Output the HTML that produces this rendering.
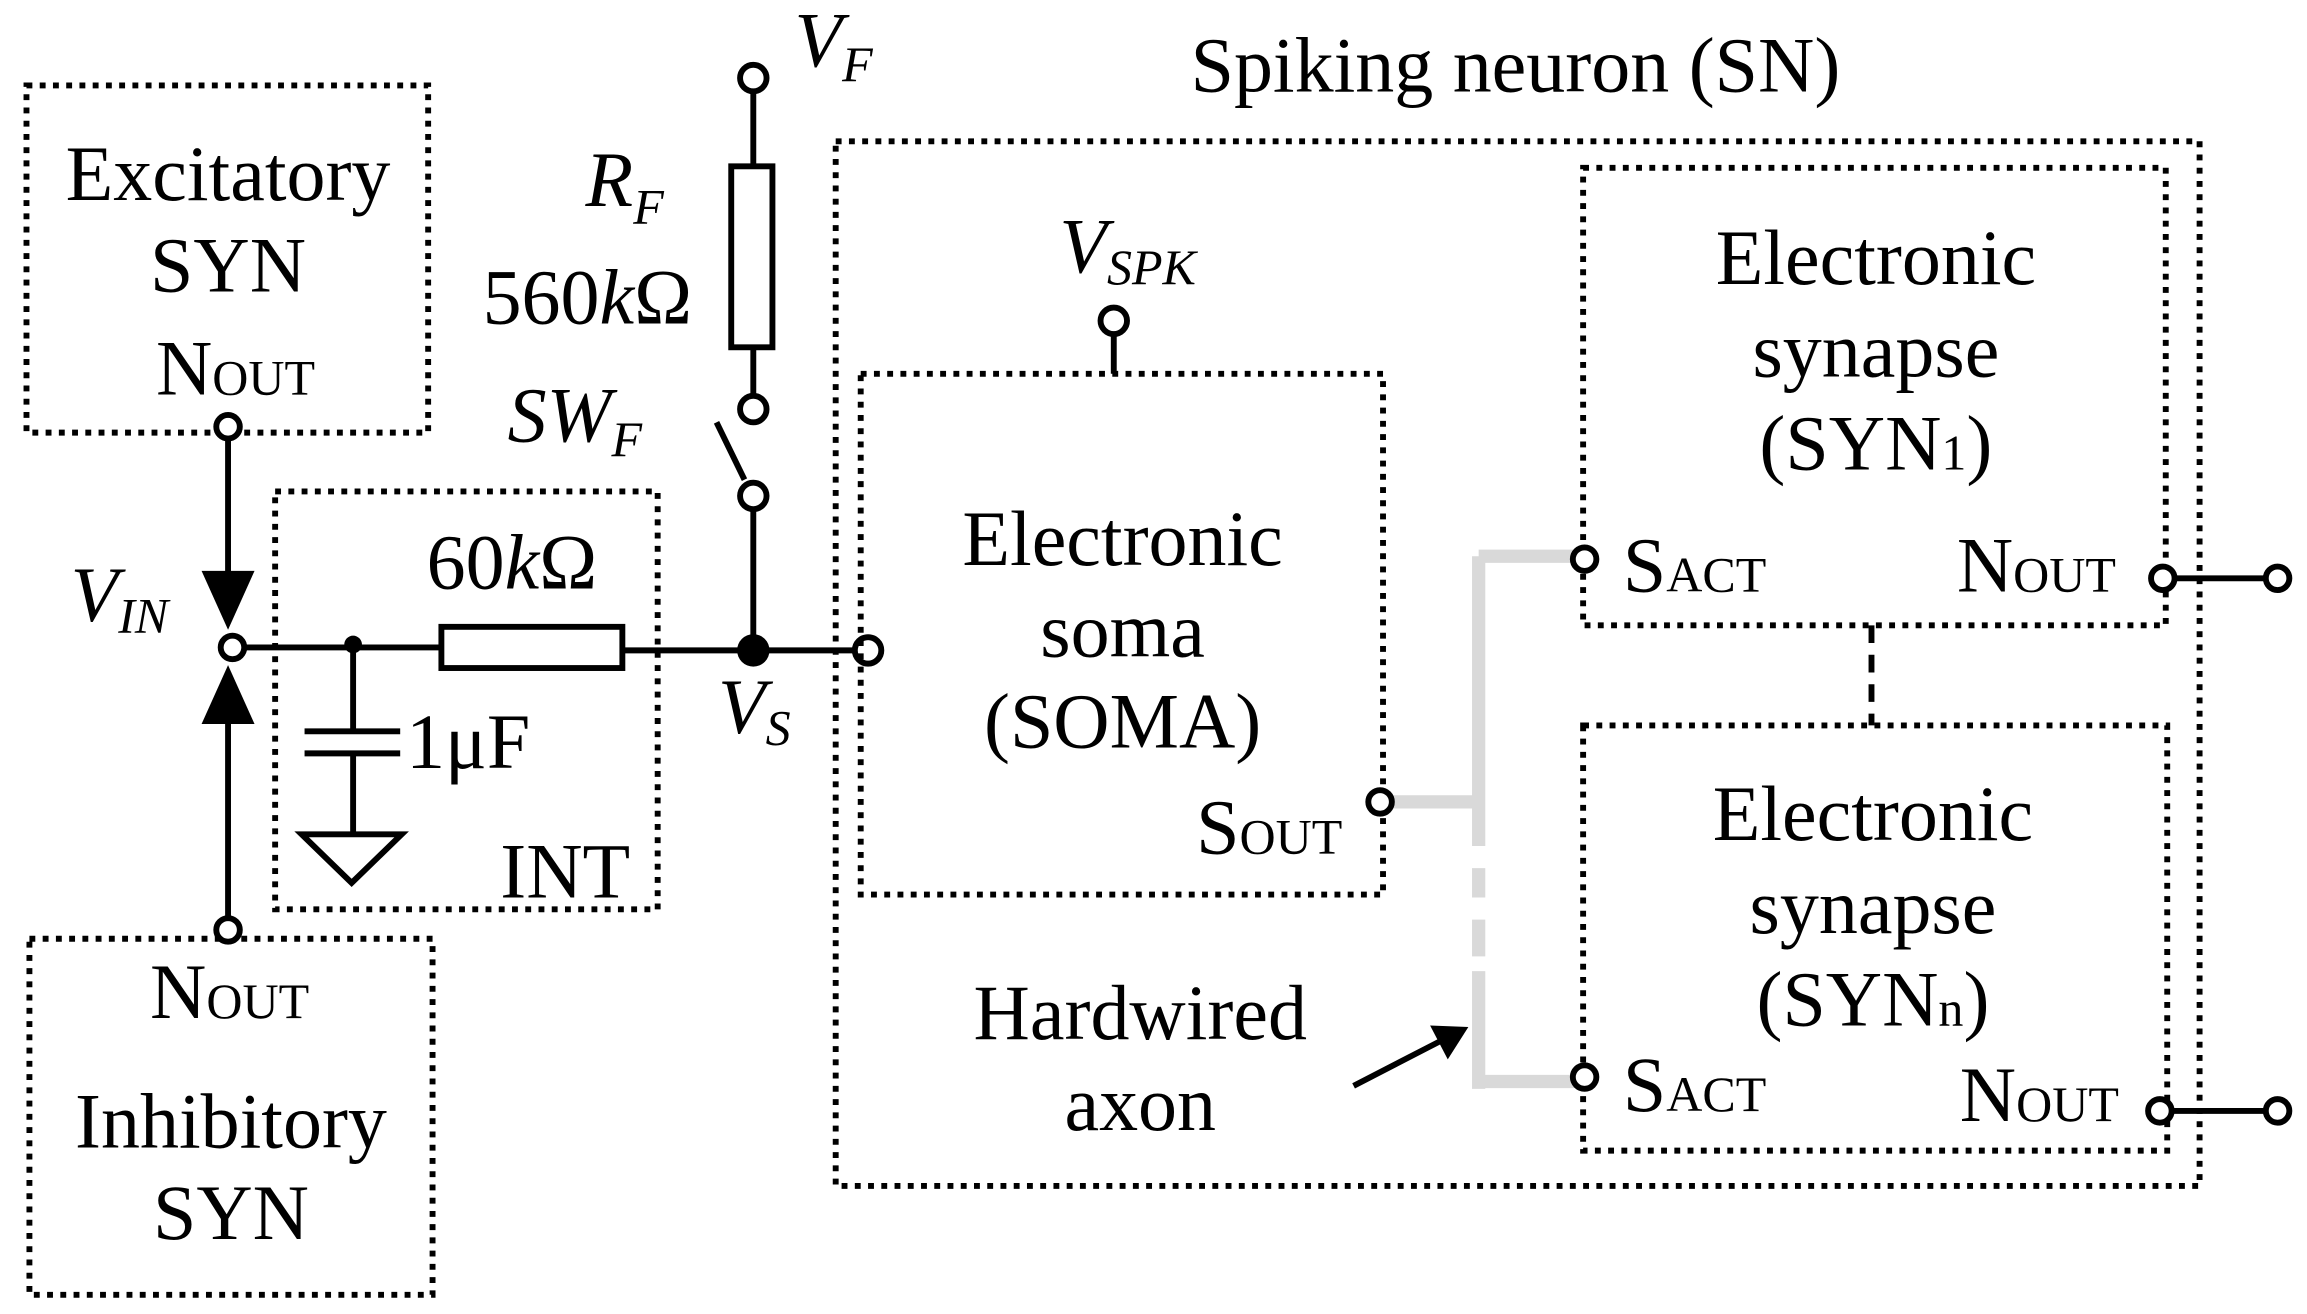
<!DOCTYPE html>
<html><head><style>
html,body{margin:0;padding:0;background:#fff;}
svg{display:block}
text{font-family:"Liberation Serif",serif;font-size:53px;fill:#000}
.i{font-style:italic}
.s{font-size:34px}
.d{fill:none;stroke:#000;stroke-width:4;stroke-dasharray:4 5}
.w{stroke:#000;stroke-width:4;fill:none}
.c{fill:#fff;stroke:#000;stroke-width:4}
</style></head><body>
<svg width="2307" height="1314" viewBox="0 0 1568 893" xmlns="http://www.w3.org/2000/svg">
<rect class="d" x="18" y="58" width="273" height="236"/>
<text x="155" y="136" text-anchor="middle">Excitatory</text>
<text x="155" y="198" text-anchor="middle">SYN</text>
<text x="106" y="268">N<tspan class="s">OUT</tspan></text>
<rect class="d" x="20" y="638" width="274" height="242"/>
<text x="102" y="692">N<tspan class="s">OUT</tspan></text>
<text x="157" y="780" text-anchor="middle">Inhibitory</text>
<text x="157" y="842" text-anchor="middle">SYN</text>
<line class="w" x1="155" y1="290" x2="155" y2="400"/>
<polygon points="137,388 173,388 155,428"/>
<line class="w" x1="155" y1="632" x2="155" y2="480"/>
<polygon points="137,492 173,492 155,452"/>
<circle class="c" cx="155" cy="290" r="8"/>
<circle class="c" cx="155" cy="632" r="8"/>
<circle class="c" cx="158" cy="440" r="8"/>
<text class="i" x="48" y="422">V<tspan class="s" dy="8">IN</tspan></text>
<rect class="d" x="187" y="334" width="260" height="284"/>
<line class="w" x1="166" y1="440" x2="300" y2="440"/>
<rect class="w" x="300" y="426" width="123" height="28"/>
<circle cx="240" cy="438" r="6"/>
<line class="w" x1="240" y1="438" x2="240" y2="497"/>
<line class="w" x1="207" y1="497" x2="272" y2="497"/>
<line class="w" x1="207" y1="512" x2="272" y2="512"/>
<line class="w" x1="240" y1="512" x2="240" y2="567"/>
<polygon class="w" points="205,567 273,567 239,600"/>
<text x="276" y="522">1μF</text>
<text x="290" y="400">60<tspan class="i">k</tspan>Ω</text>
<text x="340" y="610">INT</text>
<line class="w" x1="423" y1="442" x2="582" y2="442"/>
<circle cx="512" cy="442" r="11"/>
<circle class="c" cx="590" cy="442" r="9"/>
<text class="i" x="488" y="498">V<tspan class="s" dy="8">S</tspan></text>
<line class="w" x1="512" y1="442" x2="512" y2="346"/>
<circle class="c" cx="512" cy="337" r="9"/>
<line class="w" x1="506" y1="326" x2="487" y2="287"/>
<circle class="c" cx="512" cy="278" r="9"/>
<line class="w" x1="512" y1="269" x2="512" y2="236"/>
<rect class="w" x="497" y="113" width="28" height="123"/>
<line class="w" x1="512" y1="113" x2="512" y2="62"/>
<circle class="c" cx="512" cy="53" r="9"/>
<text class="i" x="540" y="45">V<tspan class="s" dy="10">F</tspan></text>
<text class="i" x="398" y="140">R<tspan class="s" dy="12">F</tspan></text>
<text x="328" y="220">560<tspan class="i">k</tspan>Ω</text>
<text class="i" x="345" y="300">SW<tspan class="s" dy="10">F</tspan></text>
<text x="1030" y="62" text-anchor="middle">Spiking neuron (SN)</text>
<rect class="d" x="568" y="96" width="927" height="710"/>
<rect class="d" x="585" y="254" width="355" height="354"/>
<text class="i" x="720" y="185">V<tspan class="s" dy="8">SPK</tspan></text>
<line class="w" x1="757" y1="227" x2="757" y2="254"/>
<circle class="c" cx="757" cy="218" r="9"/>
<text x="763" y="384" text-anchor="middle">Electronic</text>
<text x="763" y="446" text-anchor="middle">soma</text>
<text x="763" y="508" text-anchor="middle">(SOMA)</text>
<text x="813" y="580">S<tspan class="s">OUT</tspan></text>
<g stroke="#d9d9d9" stroke-width="9" fill="none">
<polyline points="945,545 1005,545"/>
<polyline points="1005,378 1070,378"/>
<polyline points="1005,735 1070,735"/>
<line x1="1005" y1="378" x2="1005" y2="575"/>
<line x1="1005" y1="590" x2="1005" y2="610" />
<line x1="1005" y1="625" x2="1005" y2="650" />
<line x1="1005" y1="660" x2="1005" y2="740"/>
</g>
<circle class="c" cx="938" cy="545" r="8"/>
<line class="w" x1="920" y1="738" x2="982" y2="706"/>
<polygon points="998,698 972,697 984,720"/>
<text x="775" y="706" text-anchor="middle">Hardwired</text>
<text x="775" y="768" text-anchor="middle">axon</text>
<rect class="d" x="1076" y="114" width="396" height="311"/>
<text x="1275" y="193" text-anchor="middle">Electronic</text>
<text x="1275" y="256" text-anchor="middle">synapse</text>
<text x="1275" y="319" text-anchor="middle">(SYN<tspan class="s">1</tspan>)</text>
<circle class="c" cx="1077" cy="380" r="8"/>
<text x="1103" y="402">S<tspan class="s">ACT</tspan></text>
<text x="1330" y="402">N<tspan class="s">OUT</tspan></text>
<line class="w" x1="1470" y1="393" x2="1548" y2="393"/>
<circle class="c" cx="1470" cy="393" r="8"/>
<circle class="c" cx="1548" cy="393" r="8"/>
<line x1="1272" y1="425" x2="1272" y2="493" stroke="#000" stroke-width="4" stroke-dasharray="12 8"/>
<rect class="d" x="1076" y="493" width="397" height="289"/>
<text x="1273" y="571" text-anchor="middle">Electronic</text>
<text x="1273" y="634" text-anchor="middle">synapse</text>
<text x="1273" y="697" text-anchor="middle">(SYN<tspan class="s">n</tspan>)</text>
<circle class="c" cx="1077" cy="732" r="8"/>
<text x="1103" y="755">S<tspan class="s">ACT</tspan></text>
<text x="1332" y="762">N<tspan class="s">OUT</tspan></text>
<line class="w" x1="1468" y1="755" x2="1548" y2="755"/>
<circle class="c" cx="1468" cy="755" r="8"/>
<circle class="c" cx="1548" cy="755" r="8"/>
</svg>
</body></html>
